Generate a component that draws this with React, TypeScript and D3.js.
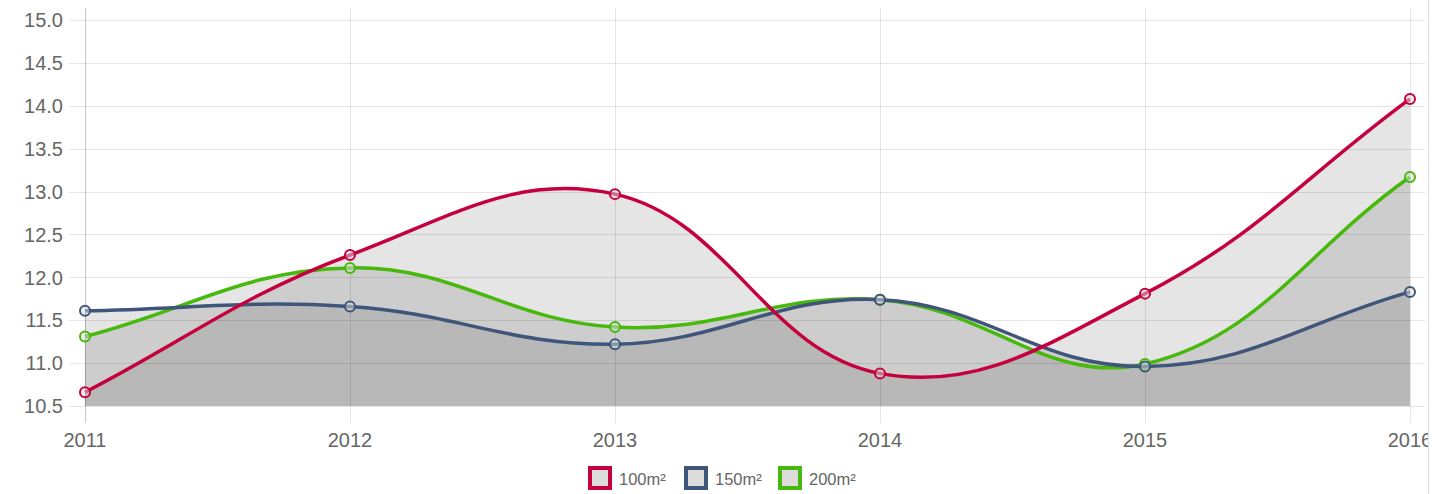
import React, { useEffect, useRef } from 'react';
import * as d3 from 'd3';

const years = ['2011', '2012', '2013', '2014', '2015', '2016'];
const series100 = [10.66, 12.26, 12.97, 10.88, 11.81, 14.08];
const series150 = [11.61, 11.66, 11.22, 11.74, 10.96, 11.83];
const series200 = [11.31, 12.11, 11.42, 11.74, 10.99, 13.17];
const seriesNames = ['100m²', '150m²', '200m²'];
const seriesColors = ['#c4003f', '#3f5579', '#47b80c'];
const yTicks = [10.5, 11.0, 11.5, 12.0, 12.5, 13.0, 13.5, 14.0, 14.5, 15.0];

const W = 1432;
const H = 494;
const margin = { top: 20, right: 22, bottom: 88, left: 85 };

type Pt = { x: number; y: number };

// chart.js style spline (tension 0.4)
function splinePath(pts: Pt[], bottom: number | null) {
  const t = 0.4;
  const cps = pts.map((cur, i) => {
    const prev = i > 0 ? pts[i - 1] : cur;
    const next = i < pts.length - 1 ? pts[i + 1] : cur;
    const d01 = Math.hypot(cur.x - prev.x, cur.y - prev.y);
    const d12 = Math.hypot(next.x - cur.x, next.y - cur.y);
    let s01 = d01 / (d01 + d12);
    let s12 = d12 / (d01 + d12);
    if (isNaN(s01)) s01 = 0;
    if (isNaN(s12)) s12 = 0;
    const fa = t * s01;
    const fb = t * s12;
    return {
      prev: { x: cur.x - fa * (next.x - prev.x), y: cur.y - fa * (next.y - prev.y) },
      next: { x: cur.x + fb * (next.x - prev.x), y: cur.y + fb * (next.y - prev.y) },
    };
  });
  const p = d3.path();
  p.moveTo(pts[0].x, pts[0].y);
  for (let i = 1; i < pts.length; i++) {
    p.bezierCurveTo(cps[i - 1].next.x, cps[i - 1].next.y, cps[i].prev.x, cps[i].prev.y, pts[i].x, pts[i].y);
  }
  if (bottom !== null) {
    p.lineTo(pts[pts.length - 1].x, bottom);
    p.lineTo(pts[0].x, bottom);
    p.closePath();
  }
  return p.toString();
}

function Chart() {
  const ref = useRef<SVGSVGElement>(null);

  useEffect(() => {
    const svg = d3.select(ref.current);
    svg.selectAll('*').remove();

    const x = d3.scalePoint().domain(years).range([margin.left, W - margin.right]);
    const y = d3.scaleLinear().domain([10.5, 15.0]).range([H - margin.bottom, margin.top]);
    const bottom = y(10.5);
    const all = [series100, series150, series200];
    const font = '"Liberation Sans", Arial, sans-serif';

    // canvas is cut at the right edge
    svg.append('clipPath').attr('id', 'edge')
      .append('rect').attr('x', 0).attr('y', 0).attr('width', W - 4).attr('height', H);
    const root = svg.append('g').attr('clip-path', 'url(#edge)');

    // horizontal grid
    root.append('g').selectAll('line')
      .data(yTicks)
      .enter().append('line')
      .attr('x1', margin.left - 16)
      .attr('x2', W - margin.right + 15)
      .attr('y1', d => Math.round(y(d)) + 0.5)
      .attr('y2', d => Math.round(y(d)) + 0.5)
      .attr('stroke', 'rgba(0,0,0,0.1)');

    // vertical grid
    root.append('g').selectAll('line')
      .data(years)
      .enter().append('line')
      .attr('x1', d => Math.round(x(d)!) + 0.5)
      .attr('x2', d => Math.round(x(d)!) + 0.5)
      .attr('y1', 8)
      .attr('y2', bottom + 17)
      .attr('stroke', (d, i) => i === 0 ? 'rgba(0,0,0,0.22)' : 'rgba(0,0,0,0.1)');

    // right border
    svg.append('line')
      .attr('x1', W - 3.5).attr('x2', W - 3.5)
      .attr('y1', 0).attr('y2', H)
      .attr('stroke', 'rgba(0,0,0,0.12)');

    // y labels
    root.append('g').selectAll('text')
      .data(yTicks)
      .enter().append('text')
      .attr('x', 63)
      .attr('y', d => y(d))
      .attr('dy', '0.36em')
      .attr('text-anchor', 'end')
      .attr('font-family', font)
      .attr('font-size', 20)
      .attr('fill', '#666')
      .text(d => d.toFixed(1));

    // x labels
    root.append('g').selectAll('text')
      .data(years)
      .enter().append('text')
      .attr('x', d => x(d)!)
      .attr('y', 447)
      .attr('text-anchor', 'middle')
      .attr('font-family', font)
      .attr('font-size', 20)
      .attr('fill', '#666')
      .text(d => d);

    const ptsOf = (vals: number[]) => vals.map((v, i) => ({ x: x(years[i])!, y: y(v) }));

    // fills
    const fills = root.append('g');
    all.slice().reverse().forEach(vals => {
      fills.append('path')
        .attr('d', splinePath(ptsOf(vals), bottom))
        .attr('fill', 'rgba(0,0,0,0.1)');
    });

    // lines + points, first dataset on top
    [2, 1, 0].forEach(si => {
      const pts = ptsOf(all[si]);
      root.append('path')
        .attr('d', splinePath(pts, null))
        .attr('fill', 'none')
        .attr('stroke', seriesColors[si])
        .attr('stroke-width', 3.5);
      root.append('g').selectAll('circle')
        .data(pts)
        .enter().append('circle')
        .attr('cx', d => d.x)
        .attr('cy', d => d.y)
        .attr('r', 5)
        .attr('fill', 'rgba(220,220,220,0.5)')
        .attr('stroke', seriesColors[si])
        .attr('stroke-width', 2);
    });

    // legend
    const legendX = [590, 686, 780];
    const legend = root.append('g');
    seriesNames.forEach((name, i) => {
      legend.append('rect')
        .attr('x', legendX[i])
        .attr('y', 468)
        .attr('width', 20)
        .attr('height', 20)
        .attr('fill', 'rgba(220,220,220,1)')
        .attr('stroke', seriesColors[i])
        .attr('stroke-width', 4);
      legend.append('text')
        .attr('x', legendX[i] + 29)
        .attr('y', 485)
        .attr('font-family', font)
        .attr('font-size', 16.5)
        .attr('fill', '#666')
        .text(name);
    });
  }, []);

  return <svg ref={ref} width={W} height={H} style={{ position: 'absolute', left: 0, top: 0, background: '#fff' }} />;
}

export default function App() {
  return <Chart />;
}
